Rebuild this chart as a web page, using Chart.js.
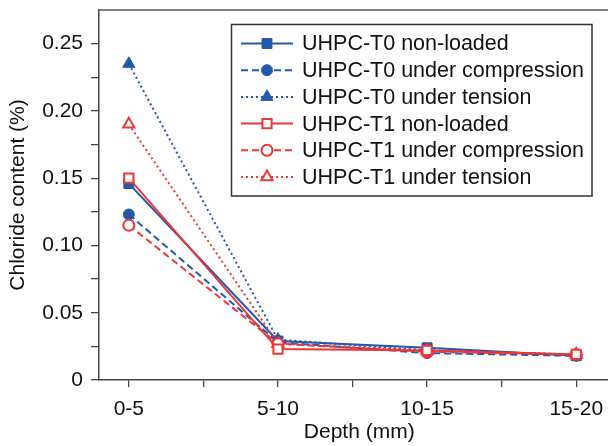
<!DOCTYPE html>
<html>
<head>
<meta charset="utf-8">
<script src="https://cdn.jsdelivr.net/npm/chart.js@4.4.1/dist/chart.umd.min.js"></script>
<style>
  html, body { margin: 0; padding: 0; background: #fff; overflow: hidden; width: 608px; height: 446px; }
  #wrap { width: 628px; height: 446px; }
</style>
</head>
<body>
<div id="wrap"><canvas id="chloride" width="628" height="446"></canvas></div>
<script>
// ── DATA ─────────────────────────────────────────
const depths = ['0-5', '5-10', '10-15', '15-20'];
const t0NonLoaded    = [0.146, 0.029, 0.024, 0.018];
const t0Compression  = [0.123, 0.028, 0.020, 0.018];
const t0Tension      = [0.235, 0.030, 0.022, 0.019];
const t1NonLoaded    = [0.150, 0.023, 0.022, 0.019];
const t1Compression  = [0.115, 0.027, 0.021, 0.019];
const t1Tension      = [0.190, 0.027, 0.022, 0.019];
const yTicks = [0, 0.025, 0.05, 0.075, 0.10, 0.125, 0.15, 0.175, 0.20, 0.225, 0.25];
const xTicks = [0, 0.5, 1, 1.5, 2, 2.5, 3];

const BLUE = '#2458a8';
const RED  = '#ef3535';
const FONT = '"Liberation Sans", Arial, sans-serif';

const pts = arr => arr.map((v, i) => ({ x: i, y: v }));

function serie(label, data, color, dash, style, radius, filled) {
  return {
    label,
    data: pts(data),
    borderColor: color,
    borderWidth: 2,
    borderDash: dash,
    pointStyle: style,
    pointRadius: radius,
    pointHoverRadius: radius,
    pointBorderWidth: filled ? 1 : 2,
    pointBorderColor: color,
    pointBackgroundColor: filled ? color : '#fff',
    tension: 0,
    fill: false,
    order: filled ? 1 : 0,
  };
}

const datasets = [
  serie('UHPC-T0 non-loaded',          t0NonLoaded,   BLUE, [],     'rect',     7,   true),
  serie('UHPC-T0 under compression',   t0Compression, BLUE, [7, 4], 'circle',   5.5, true),
  serie('UHPC-T0 under tension',       t0Tension,     BLUE, [2, 3], 'triangle', 7,   true),
  serie('UHPC-T1 non-loaded',          t1NonLoaded,   RED,  [],     'rect',     6.5, false),
  serie('UHPC-T1 under compression',   t1Compression, RED,  [7, 4], 'circle',   5.5, false),
  serie('UHPC-T1 under tension',       t1Tension,     RED,  [2, 3], 'triangle', 6.5, false),
];

// ── PLUGINS: moldura superior + legenda ───────────
const topFrame = {
  id: 'topFrame',
  afterDraw(chart) {
    const { ctx, chartArea: a } = chart;
    ctx.save();
    ctx.strokeStyle = '#555';
    ctx.lineWidth = 1.5;
    ctx.beginPath();
    ctx.moveTo(a.left, a.top);
    ctx.lineTo(a.right + 10, a.top);
    ctx.stroke();
    ctx.restore();
  },
};

const lineLegend = {
  id: 'lineLegend',
  afterDraw(chart) {
    const ctx = chart.ctx;
    ctx.save();
    ctx.strokeStyle = '#333';
    ctx.lineWidth = 1.5;
    ctx.strokeRect(231.5, 24.5, 360.5, 171.5);

    chart.data.datasets.forEach((ds, i) => {
      const y = 43.5 + i * 26.7;
      ctx.strokeStyle = ds.borderColor;
      ctx.lineWidth = 2;
      ctx.setLineDash(ds.borderDash);
      ctx.beginPath();
      ctx.moveTo(241, y);
      ctx.lineTo(293, y);
      ctx.stroke();
      ctx.setLineDash([]);

      ctx.fillStyle = ds.pointBackgroundColor;
      ctx.strokeStyle = ds.pointBorderColor;
      ctx.lineWidth = ds.pointBorderWidth;
      Chart.helpers.drawPoint(ctx, {
        pointStyle: ds.pointStyle,
        radius: ds.pointRadius,
        rotation: 0,
        borderWidth: ds.pointBorderWidth,
      }, 267, y);

      ctx.fillStyle = '#111';
      ctx.font = '21.5px ' + FONT;
      ctx.textAlign = 'left';
      ctx.textBaseline = 'middle';
      ctx.fillText(ds.label, 302, y + 1);
    });
    ctx.restore();
  },
};

// ── CHART ─────────────────────────────────────────
new Chart(document.getElementById('chloride'), {
  type: 'line',
  data: { datasets },
  plugins: [topFrame, lineLegend],
  options: {
    responsive: false,
    animation: false,
    devicePixelRatio: 1,
    layout: { padding: { top: 10, left: 0, right: 0, bottom: 0 } },
    plugins: { legend: { display: false }, tooltip: { enabled: false } },
    scales: {
      x: {
        type: 'linear',
        min: -0.2,
        max: 3.29,
        afterBuildTicks: s => { s.ticks = xTicks.map(v => ({ value: v })); },
        afterFit: s => { s.height = 66; s.paddingLeft = 0; s.paddingRight = 0; },
        ticks: {
          autoSkip: false,
          maxRotation: 0,
          padding: 10,
          color: '#111',
          font: { family: FONT, size: 21 },
          callback: v => Number.isInteger(v) ? depths[v] : '',
        },
        grid: { drawOnChartArea: false, tickLength: 7, color: '#444', lineWidth: 1.3 },
        border: { color: '#444', width: 1.5 },
        title: {
          display: true,
          text: 'Depth (mm)',
          color: '#111',
          font: { family: FONT, size: 21 },
          padding: { top: 0, bottom: 1 },
        },
      },
      y: {
        min: 0,
        max: 0.275,
        afterBuildTicks: s => { s.ticks = yTicks.map(v => ({ value: v })); },
        afterFit: s => { s.width = 99; s.paddingTop = 0; s.paddingBottom = 0; },
        ticks: {
          padding: 8,
          color: '#111',
          font: { family: FONT, size: 21 },
          callback: v => {
            const k = Math.round(v / 0.025);
            if (k % 2) return '';
            return k === 0 ? '0' : v.toFixed(2);
          },
        },
        grid: { drawOnChartArea: false, tickLength: 8, color: '#444', lineWidth: 1.3 },
        border: { color: '#444', width: 1.5 },
        title: {
          display: true,
          text: 'Chloride content (%)',
          color: '#111',
          font: { family: FONT, size: 21 },
          padding: { top: 6, bottom: 0 },
        },
      },
    },
  },
});
</script>
</body>
</html>
